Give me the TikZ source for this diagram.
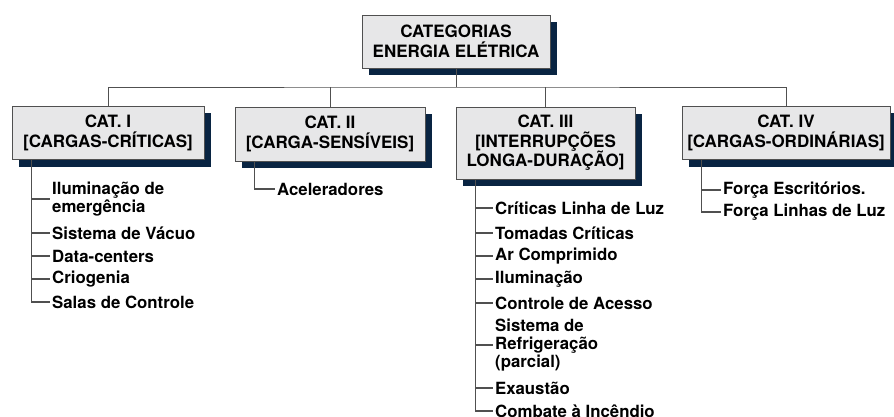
\documentclass[tikz,border=0pt]{standalone}
\usepackage{fontspec}
\setmainfont{TeX Gyre Heros}
\usepackage{tikz}
\usetikzlibrary{positioning,shadows}
\definecolor{ShadowNavy}{RGB}{9,36,66}
\definecolor{BoxGray}{RGB}{231,231,232}
\definecolor{LineGray}{RGB}{80,80,80}

\begin{document}
\begin{tikzpicture}[x=1pt,y=-1pt,
  catbox/.style={draw=LineGray,fill=BoxGray,line width=0.8pt,
                 minimum height=53pt,align=center,inner sep=0pt,
                 font=\fontsize{17}{19.5}\selectfont\bfseries,
                 drop shadow={shadow xshift=7pt,shadow yshift=-7pt,
                              fill=ShadowNavy,opacity=1}},
  item/.style={anchor=west,align=left,inner xsep=2pt,inner ysep=0pt,
               font=\fontsize{16.8}{18}\selectfont\bfseries},
  bus/.style={draw=LineGray,line width=0.8pt},
  tree/.style={draw=LineGray,line width=1.2pt},
]
\useasboundingbox (0,0) rectangle (894,417);

\node[catbox,minimum width=188pt] (root) at (456,41.5) {CATEGORIAS\\ENERGIA ELÉTRICA};
\node[catbox,minimum width=192pt] (cat1) at (108,133) {CAT. I\\{[CARGAS-CRÍTICAS]}};
\node[catbox,minimum width=190pt,minimum height=54pt] (cat2) at (330,134) {CAT. II\\{[CARGA-SENSÍVEIS]}};
\node[catbox,minimum width=179pt,minimum height=72pt] (cat3) at (545.5,143) {CAT. III\\{[INTERRUPÇÕES}\\LONGA-DURAÇÃO]};
\node[catbox,minimum width=208pt] (cat4) at (786,133) {CAT. IV\\{[CARGAS-ORDINÁRIAS]}};

% ligacoes entre as categorias
\coordinate (bus) at (456,87);
\draw[bus] (root.south) -- (bus);
\draw[bus] (cat1.north) |- (bus) -| (cat4.north);
\draw[bus] (cat2.north) -- (cat2.north |- bus);
\draw[bus] (cat3.north) -- (cat3.north |- bus);

% cat. I
\coordinate (t1) at ([xshift=20pt]cat1.south west);
\node[item] (i11) at (50,199) {Iluminação de\\emergência};
\node[item] (i12) at (50,233) {Sistema de Vácuo};
\node[item] (i13) at (50,256) {Data-centers};
\node[item] (i14) at (50,279) {Criogenia};
\node[item] (i15) at (50,302) {Salas de Controle};
\draw[tree] (t1) |- (i15.west)
  (i11.west -| t1) -- (i11.west) (i12.west -| t1) -- (i12.west)
  (i13.west -| t1) -- (i13.west) (i14.west -| t1) -- (i14.west);

% cat. II
\coordinate (t2) at ([xshift=20pt]cat2.south west);
\node[item] (i21) at (275,189) {Aceleradores};
\draw[tree] (t2) |- (i21.west);

% cat. III
\coordinate (t3) at ([xshift=20pt]cat3.south west);
\node[item] (i31) at (493,208) {Críticas Linha de Luz};
\node[item] (i32) at (493,233) {Tomadas Críticas};
\node[item] (i33) at (493,256) {Ar Comprimido};
\node[item] (i34) at (493,279) {Iluminação};
\node[item] (i35) at (493,303) {Controle de Acesso};
\node[item] (i36) at (493,345) {Sistema de\\Refrigeração\\(parcial)};
\node[item] (i37) at (493,388) {Exaustão};
\node[item] (i38) at (493,411) {Combate à Incêndio};
\draw[tree] (t3) |- (i38.west)
  (i31.west -| t3) -- (i31.west) (i32.west -| t3) -- (i32.west)
  (i33.west -| t3) -- (i33.west) (i34.west -| t3) -- (i34.west)
  (i35.west -| t3) -- (i35.west) (i36.west -| t3) -- (i36.west)
  (i37.west -| t3) -- (i37.west);

% cat. IV
\coordinate (t4) at ([xshift=20pt]cat4.south west);
\node[item] (i41) at (721,190) {Força Escritórios.};
\node[item] (i42) at (721,212) {Força Linhas de Luz};
\draw[tree] (t4) |- (i42.west) (i41.west -| t4) -- (i41.west);
\end{tikzpicture}
\end{document}
